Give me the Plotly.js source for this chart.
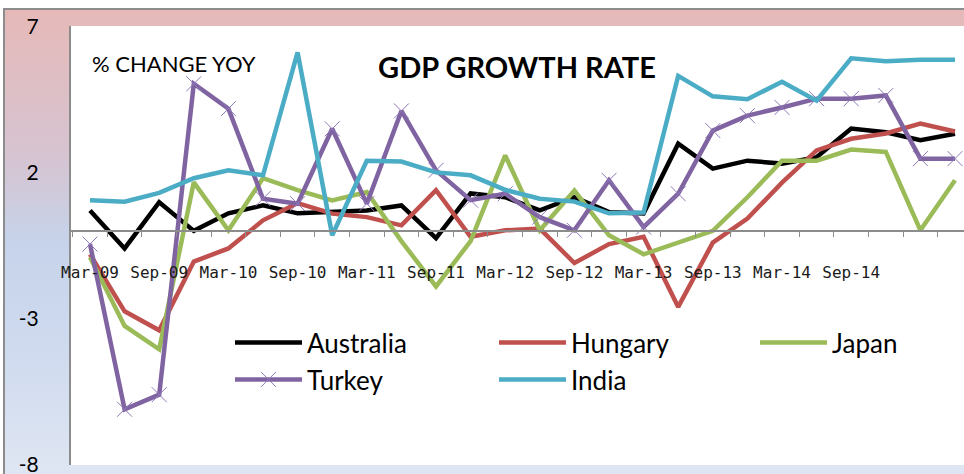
<!DOCTYPE html>
<html>
<head>
<meta charset="utf-8">
<script src="https://cdn.plot.ly/plotly-3.0.1.min.js"></script>
<style>
  html, body { margin: 0; padding: 0; background: #ffffff; }
  #wrap { position: relative; width: 964px; height: 474px; overflow: hidden; background: #ffffff; }
  #frame {
    position: absolute; left: 3px; top: 8px; right: 0; bottom: 0;
    border-left: 2px solid #8c8c8c; border-top: 2px solid #8c8c8c;
    background: linear-gradient(to bottom, #e6b9b8 0%, #d6c4d2 32%, #c6d3ea 50%, #d0dbef 75%, #dfe6f3 100%);
  }
  #chart { position: absolute; left: 0; top: 0; width: 964px; height: 474px; }
</style>
</head>
<body>
<div id="wrap">
  <div id="frame"></div>
  <div id="chart"></div>
</div>
<script>
// ---- data ----
const quarters = ['Mar-09','Jun-09','Sep-09','Dec-09','Mar-10','Jun-10','Sep-10','Dec-10',
                  'Mar-11','Jun-11','Sep-11','Dec-11','Mar-12','Jun-12','Sep-12','Dec-12',
                  'Mar-13','Jun-13','Sep-13','Dec-13','Mar-14','Jun-14','Sep-14','Dec-14',
                  'Mar-15','Jun-15'];
const shownLabels = ['Mar-09','Sep-09','Mar-10','Sep-10','Mar-11','Sep-11','Mar-12','Sep-12',
                     'Mar-13','Sep-13','Mar-14','Sep-14'];
const australia = [0.7,-0.6,0.98,0.0,0.6,0.87,0.6,0.64,0.7,0.87,-0.25,1.28,1.15,0.7,1.15,0.64,
                   0.6,2.98,2.13,2.4,2.3,2.52,3.5,3.37,3.1,3.32];
const hungary   = [-0.8,-2.75,-3.4,-1.05,-0.6,0.36,0.95,0.59,0.47,0.19,1.39,-0.2,0.02,0.08,-1.1,-0.45,
                   -0.2,-2.6,-0.4,0.42,1.65,2.75,3.15,3.33,3.67,3.4];
const japan     = [-0.9,-3.25,-4.05,1.66,0.02,1.8,1.39,1.04,1.33,-0.35,-1.9,-0.35,2.58,0.02,1.38,-0.15,
                   -0.8,-0.4,0.0,1.15,2.4,2.4,2.78,2.7,0.02,1.73];
const turkey    = [-0.45,-6.1,-5.6,5.03,4.18,1.1,0.93,3.49,0.93,4.1,2.07,1.05,1.27,0.47,0.02,1.73,
                   0.13,1.27,3.43,3.94,4.22,4.52,4.52,4.63,2.47,2.47];
const india     = [1.05,1.0,1.3,1.8,2.07,1.9,6.1,-0.15,2.4,2.37,2.0,1.9,1.4,1.1,1.0,0.6,
                   0.63,5.3,4.6,4.5,5.1,4.45,5.9,5.8,5.85,5.85];
const yTickVals = [7, 2, -3, -8];
const yTickText = ['7', '2', '-3', '-8'];

// ---- chart ----
const idx = quarters.map((q, i) => i);
function series(name, values, color, legendId, extra) {
  return Object.assign({
    type: 'scatter', mode: 'lines', name: name, legend: legendId,
    x: idx, y: values, customdata: quarters,
    hovertemplate: '%{customdata}: %{y}<extra>' + name + '</extra>',
    line: { color: color, width: 4.5 }
  }, extra || {});
}
const traces = [
  series('Australia', australia, '#000000', 'legend'),
  series('Hungary', hungary, '#c0504d', 'legend2'),
  series('Japan', japan, '#9bbb59', 'legend3'),
  series('Turkey', turkey, '#8064a2', 'legend4', {
    mode: 'lines+markers',
    marker: { symbol: 'x-thin-open', size: 15, color: '#8f78b8', line: { width: 1, color: '#8f78b8' } }
  }),
  series('India', india, '#4bacc6', 'legend5')
];

const boundaries = quarters.map((q, i) => i - 0.5).concat([quarters.length - 0.5]);

// legend box placement (pixels in the 964x474 picture)
const plotL = 71, plotW = 893, plotB = 465, plotH = 439;
function legendAt(leftPx, topPx) {
  return {
    orientation: 'h',
    x: (leftPx - plotL) / plotW, xanchor: 'left',
    y: (plotB - topPx) / plotH, yanchor: 'top',
    bgcolor: 'rgba(0,0,0,0)',
    itemwidth: 67,
    font: { family: 'Lato', size: 26, color: '#000000' }
  };
}

const layout = {
  width: 964, height: 474,
  margin: { l: 71, r: 0, t: 26, b: 9, pad: 0 },
  paper_bgcolor: 'rgba(0,0,0,0)',
  plot_bgcolor: '#ffffff',
  showlegend: true,
  title: {
    text: 'GDP GROWTH RATE',
    font: { family: 'Lato', size: 29, color: '#000000', weight: 'bold' },
    x: 517 / 964, xref: 'container', xanchor: 'center',
    y: 1 - 68 / 474, yref: 'container', yanchor: 'middle'
  },
  xaxis: {
    type: 'linear',
    range: [-0.549, 25.26],
    anchor: 'free', position: 8.005 / 15.01,
    showline: true, linecolor: '#8c8c8c', linewidth: 2,
    showgrid: false, zeroline: false,
    tickmode: 'array',
    tickvals: shownLabels.map(l => quarters.indexOf(l)),
    ticktext: shownLabels,
    ticks: '',
    ticklabelstandoff: 27,
    tickfont: { family: 'DejaVu Sans Mono', size: 16, color: '#1a1a1a' },
    minor: { tickmode: 'array', tickvals: boundaries, ticks: 'outside', ticklen: 5,
             tickwidth: 1, tickcolor: '#8c8c8c', showgrid: false }
  },
  yaxis: {
    range: [-8.005, 7.005],
    showline: true, linecolor: '#8c8c8c', linewidth: 2,
    showgrid: false, zeroline: false,
    tickmode: 'array', tickvals: yTickVals, ticktext: yTickText,
    ticks: '',
    ticklabelstandoff: 26,
    ticklabeloverflow: 'allow',
    tickfont: { family: 'Lato', size: 21, color: '#000000' }
  },
  legend:  legendAt(230, 319),
  legend2: legendAt(494, 319),
  legend3: legendAt(755, 319),
  legend4: legendAt(230, 356),
  legend5: legendAt(494, 356),
  annotations: [{
    text: '% CHANGE YOY', showarrow: false,
    xref: 'paper', yref: 'paper',
    x: (90 - plotL) / plotW, xanchor: 'left',
    y: (plotB - 63) / plotH, yanchor: 'middle',
    font: { family: 'Lato', size: 22, color: '#000000' }
  }]
};

Plotly.newPlot('chart', traces, layout, { displayModeBar: false, staticPlot: true });
</script>
</body>
</html>
